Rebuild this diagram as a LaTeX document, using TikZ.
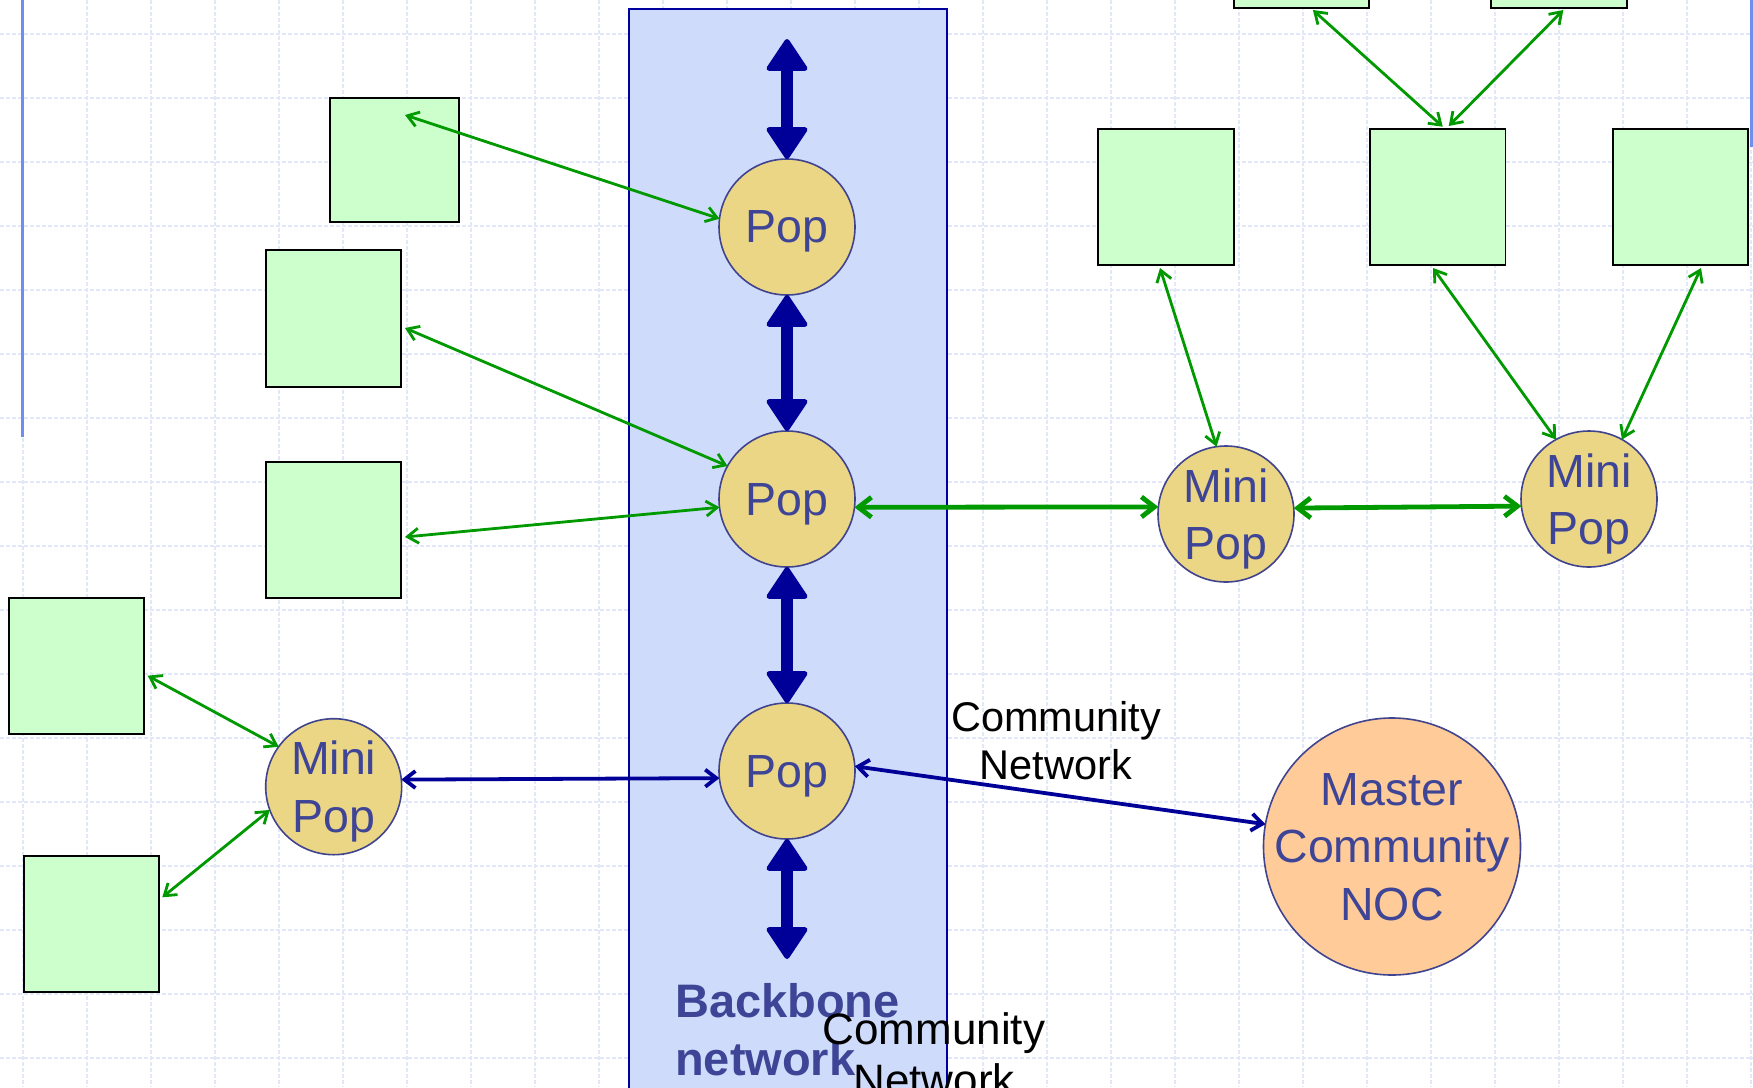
\documentclass[tikz,border=0pt]{standalone}
\usepackage{fontspec}
\setmainfont{Liberation Sans}
\usetikzlibrary{arrows.meta}
\definecolor{gridc}{HTML}{E2E8FA}
\definecolor{boxfill}{HTML}{CCFFCC}
\definecolor{arrgreen}{HTML}{009900}
\definecolor{popfill}{HTML}{EAD685}
\definecolor{popline}{HTML}{40448F}
\definecolor{poptext}{HTML}{3F4596}
\definecolor{nocfill}{HTML}{FFCC99}
\definecolor{bbfill}{HTML}{CFDBFA}
\definecolor{bbline}{HTML}{0000A0}
\definecolor{darkblue}{HTML}{000099}
\definecolor{sideline}{HTML}{6F8FEF}
\tikzset{
  popnode/.style={circle, draw=popline, fill=popfill, line width=1.6pt, minimum size=136pt,
    inner sep=0pt, outer sep=0pt, text=poptext, align=center, text depth=0pt,
    font=\fontsize{46.5}{57.5}\selectfont},
  nocnode/.style={popnode, fill=nocfill, minimum size=257pt, inner sep=-30pt},
  greenbox/.style={rectangle, draw=black, fill=boxfill, line width=1.3pt, inner sep=0pt, outer sep=0pt},
  garrow/.style={arrgreen, line width=2.8pt,
    arrows={Straight Barb[length=11pt,width=15pt]-Straight Barb[length=11pt,width=15pt]}},
  ggarrow/.style={arrgreen, line width=4.8pt,
    arrows={Straight Barb[length=13pt,width=20pt]-Straight Barb[length=13pt,width=20pt]}},
  barrow/.style={darkblue, line width=3.8pt,
    arrows={Straight Barb[length=11pt,width=17pt]-Straight Barb[length=11pt,width=17pt]}},
  bbarrow/.style={darkblue, line width=12.5pt,
    arrows={Triangle[length=34pt,width=44pt,line width=5pt,round]-Triangle[length=34pt,width=44pt,line width=5pt,round]}},
  commlabel/.style={align=center, inner sep=0pt, text depth=0pt, text=black},
}
\begin{document}
\begin{tikzpicture}[x=1pt,y=-1pt]
\useasboundingbox (0,0) rectangle (1753,1087);
\clip (0,0) rectangle (1753,1087);
\fill[white] (0,0) rectangle (1753,1087);
% grid
\foreach \k in {0,...,27} {
  \draw[gridc, line width=1.3pt, dash pattern=on 4pt off 2pt] ({23+64*\k},0) -- ({23+64*\k},1087);
}
\foreach \k in {0,...,16} {
  \draw[gridc, line width=1.3pt, dash pattern=on 4pt off 2pt] (0,{34+64*\k}) -- (1753,{34+64*\k});
}
% side lines
\draw[sideline, line width=3pt] (22,0) -- (22,437);
\draw[sideline, line width=3pt] (1751,0) -- (1751,147);
% backbone
\node[draw=bbline, fill=bbfill, line width=2pt, minimum width=318pt, minimum height=1100pt,
  inner sep=0pt, anchor=north west] (backbone) at (628,8) {};
% boxes
\node[greenbox, minimum width=129pt, minimum height=124pt] (boxA) at (394.5,160) {};
\node[greenbox, minimum width=135pt, minimum height=137pt] (boxB) at (333.5,318.5) {};
\node[greenbox, minimum width=135pt, minimum height=136pt] (boxC) at (333.5,530) {};
\node[greenbox, minimum width=135pt, minimum height=136pt] (boxD) at (76.5,666) {};
\node[greenbox, minimum width=135pt, minimum height=136pt] (boxE) at (91.5,924) {};
\node[greenbox, minimum width=136pt, minimum height=136pt] (boxF) at (1166,197) {};
\node[greenbox, minimum width=135.5pt, minimum height=136pt] (boxG) at (1437.75,197) {};
\node[greenbox, minimum width=135pt, minimum height=136pt] (boxH) at (1680.5,197) {};
\node[greenbox, minimum width=135pt, minimum height=136pt] (boxI) at (1301.5,-60) {};
\node[greenbox, minimum width=136pt, minimum height=136pt] (boxJ) at (1559,-60) {};
% pops
\node[popnode] (pop1) at (787,227) {Pop};
\node[popnode] (pop2) at (787,499) {Pop};
\node[popnode] (pop3) at (787,771) {Pop};
\node[popnode] (minir1) at (1226,514) {Mini\\Pop};
\node[popnode] (minir2) at (1589,499) {Mini\\Pop};
\node[popnode] (minil) at (333.7,786.7) {Mini\\Pop};
\node[nocnode] (noc) at (1392,846.5) {Master\\Community\\NOC};
% texts
\node[anchor=west, align=left, inner sep=0pt, text depth=0pt, text=poptext,
  font=\fontsize{47}{58}\selectfont\bfseries] (bbtext) at (675,1029) {Backbone\\network};
\node[commlabel, font=\fontsize{41.5}{48}\selectfont] (lblA) at (1056,740) {Community\\Network};
\node[commlabel, font=\fontsize{44}{51}\selectfont] (lblB) at (934,1054.5) {Community\\Network};
% endpoint coordinates
\coordinate (tA) at ([xshift=10.5pt,yshift=45pt]boxA.center);
\coordinate (tB) at ([xshift=4pt,yshift=-9.5pt]boxB.east);
\coordinate (tC) at ([xshift=4pt,yshift=-7pt]boxC.east);
\coordinate (tD) at ([xshift=3.7pt,yshift=-9.7pt]boxD.east);
\coordinate (tE) at ([xshift=3.3pt,yshift=26.7pt]boxE.east);
\coordinate (tF) at ([xshift=-6pt,yshift=-3pt]boxF.south);
\coordinate (tG1) at ([xshift=-4.75pt,yshift=-3pt]boxG.south);
\coordinate (tH) at ([xshift=20.5pt,yshift=-3pt]boxH.south);
\coordinate (tG2) at ([xshift=5pt,yshift=2.3pt]boxG.north);
\coordinate (tG3) at ([xshift=11pt,yshift=3pt]boxG.north);
\coordinate (tI) at ([xshift=11.4pt,yshift=-2pt]boxI.south);
\coordinate (tJ) at ([xshift=4.3pt,yshift=-2pt]boxJ.south);
\coordinate (bbTop) at ([yshift=120pt]pop1.north);
\coordinate (bbBot) at ([yshift=-120pt]pop3.south);
% backbone arrows
\draw[bbarrow] (bbTop) -- (pop1.north);
\draw[bbarrow] (pop1.south) -- (pop2.north);
\draw[bbarrow] (pop2.south) -- (pop3.north);
\draw[bbarrow] (pop3.south) -- (bbBot);
% green links
\draw[garrow] (tA) -- (pop1.173.6);
\draw[garrow] (tB) -- (pop2.151.8);
\draw[garrow] (tC) -- (pop2.187.2);
\draw[garrow] (tD) -- (minil.144.7);
\draw[garrow] (tE) -- (minil.200);
\draw[ggarrow] (pop2.353.3) -- (minir1.174.8);
\draw[ggarrow] (minir1.5.4) -- (minir2.186.9);
\draw[garrow] (tF) -- (minir1.98);
\draw[garrow] (tG1) -- (minir2.119.7);
\draw[garrow] (tH) -- (minir2.61.2);
\draw[garrow] (tI) -- (tG2);
\draw[garrow] (tJ) -- (tG3);
% blue links
\draw[barrow] (minil.6.2) -- (pop3.186.5);
\draw[barrow] (pop3.4.8) -- (noc.170.3);
\end{tikzpicture}
\end{document}
